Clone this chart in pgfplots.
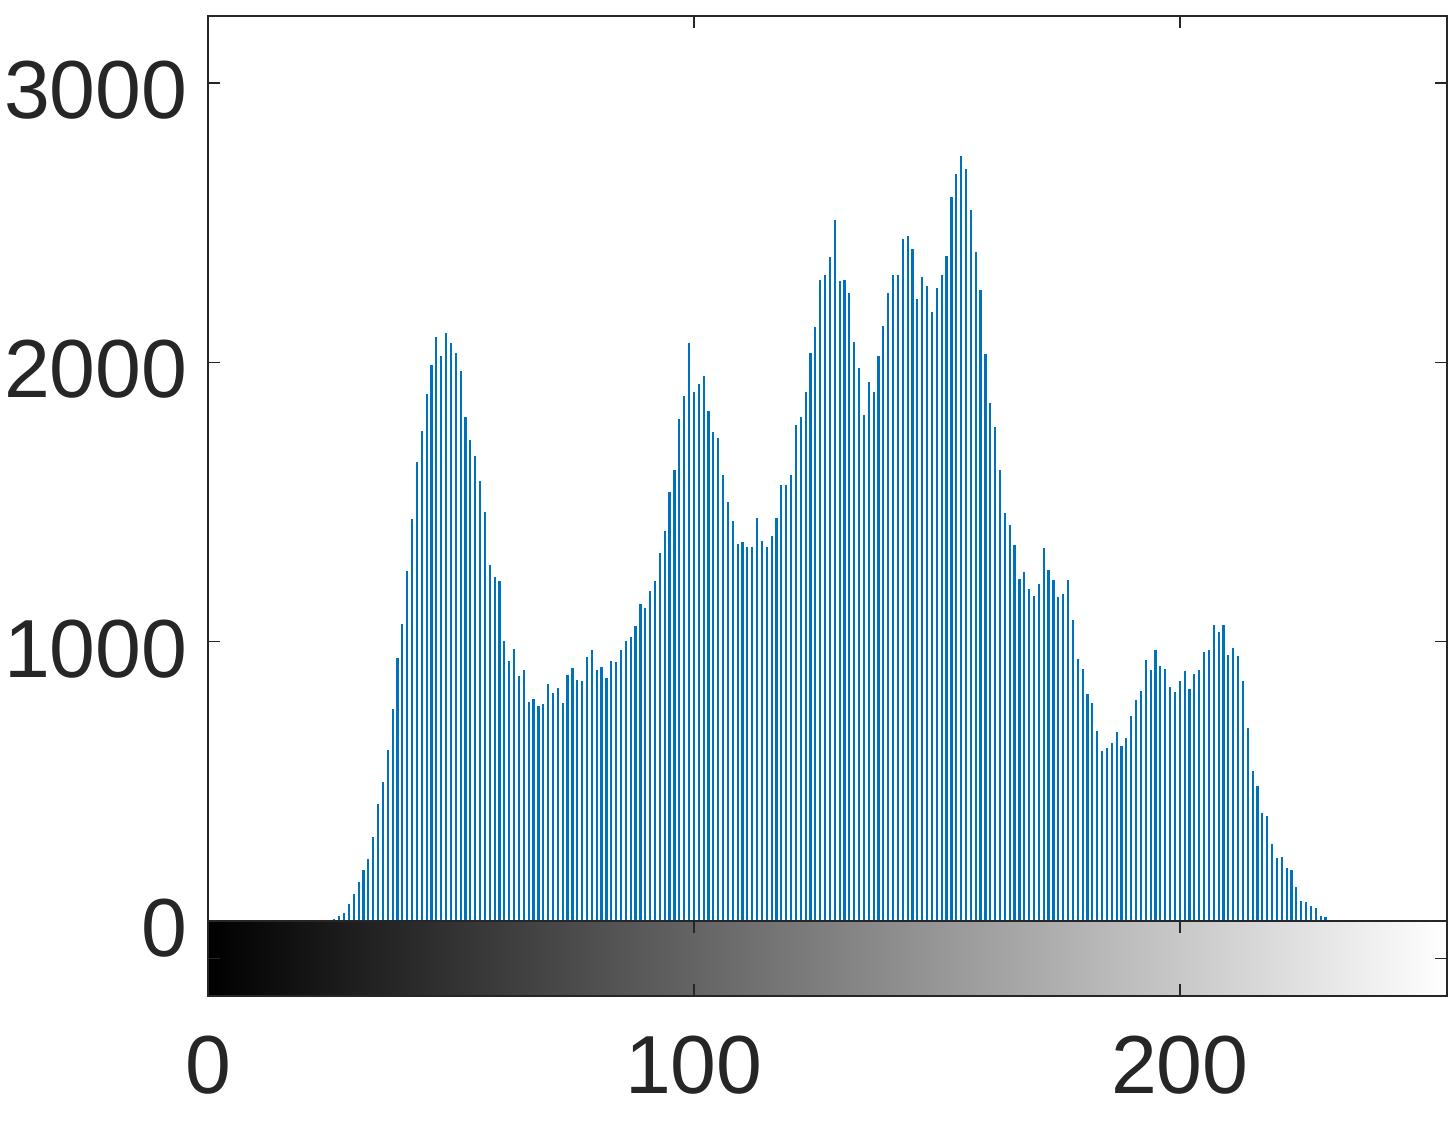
\documentclass[border=0pt]{standalone}
\usepackage{fontspec}
\setmainfont{Liberation Sans}
\usepackage{pgfplots}
\pgfplotsset{compat=1.18}
\usepackage{pgfplotstable}
\definecolor{mblue}{rgb}{0,0.447,0.741}
\definecolor{axgray}{rgb}{0.15,0.15,0.15}

\pgfplotstableread{
x y
26 7
27 18
28 28
29 60
30 97
31 139
32 181
33 222
34 299
35 418
36 498
37 613
38 758
39 940
40 1065
41 1252
42 1440
43 1642
44 1753
45 1885
46 1990
47 2091
48 2024
49 2106
50 2068
51 2034
52 1968
53 1804
54 1722
55 1665
56 1576
57 1464
58 1276
59 1232
60 1218
61 1001
62 930
63 973
64 878
65 897
66 785
67 795
68 770
69 776
70 848
71 816
72 834
73 781
74 881
75 905
76 862
77 859
78 944
79 972
80 899
81 909
82 869
83 931
84 926
85 972
86 1001
87 1016
88 1055
89 1136
90 1122
91 1180
92 1219
93 1319
94 1398
95 1537
96 1614
97 1799
98 1879
99 2069
100 1894
101 1923
102 1951
103 1826
104 1751
105 1731
106 1596
107 1499
108 1433
109 1349
110 1358
111 1339
112 1338
113 1443
114 1361
115 1339
116 1379
117 1444
118 1561
119 1561
120 1596
121 1776
122 1803
123 1893
124 2033
125 2127
126 2296
127 2311
128 2376
129 2509
130 2291
131 2294
132 2250
133 2072
134 1979
135 1811
136 1930
137 1894
138 2024
139 2130
140 2247
141 2312
142 2314
143 2442
144 2451
145 2406
146 2227
147 2307
148 2274
149 2182
150 2265
151 2314
152 2380
153 2591
154 2676
155 2739
156 2692
157 2546
158 2395
159 2258
160 2031
161 1854
162 1770
163 1615
164 1460
165 1416
166 1346
167 1225
168 1249
169 1189
170 1163
171 1206
172 1336
173 1258
174 1221
175 1159
176 1172
177 1221
178 1079
179 939
180 902
181 811
182 779
183 681
184 607
185 619
186 639
187 675
188 627
189 654
190 733
191 791
192 822
193 936
194 898
195 972
196 914
197 903
198 836
199 821
200 861
201 896
202 830
203 885
204 900
205 962
206 970
207 1060
208 1035
209 1061
210 952
211 976
212 948
213 861
214 691
215 538
216 485
217 385
218 376
219 277
220 225
221 228
222 191
223 182
224 120
225 70
226 69
227 55
228 45
229 18
230 13
231 4
232 4
233 2
234 4
}\histdata

\begin{document}
\begin{tikzpicture}
\path[use as bounding box] (0,0) rectangle (364pt,282pt);
\begin{axis}[
  at={(52pt,51.75pt)}, anchor=south west,
  scale only axis, width=309.75pt, height=226.25pt,
  xmin=0, xmax=255, ymin=0, ymax=3240,
  xtick={0,100,200}, xticklabels={},
  ytick={0,1000,2000,3000},
  tick align=inside, tick pos=both,
  major tick length=3pt,
  axis line style={axgray, line width=0.4pt},
  every tick/.style={axgray, line width=0.4pt},
  tick label style={font=\fontsize{20.6}{24}\selectfont, text=axgray},
  /pgf/number format/assume math mode=true,
  /pgf/number format/1000 sep={},
  scaled y ticks=false,
  yticklabel style={yshift=-1.75pt, xshift=-1.6pt},
]
\addplot[ycomb, mblue, line width=0.55pt] table[x=x,y=y]{\histdata};
\end{axis}
\begin{axis}[
  at={(52pt,33pt)}, anchor=south west,
  scale only axis, width=309.75pt, height=18.75pt,
  xmin=0, xmax=255, ymin=0, ymax=1,
  xtick={0,100,200}, ytick={0.5}, yticklabels={},
  tick align=inside, tick pos=both,
  major tick length=3pt,
  axis line style={axgray, line width=0.4pt},
  every tick/.style={axgray, line width=0.4pt},
  tick label style={font=\fontsize{20.6}{24}\selectfont, text=axgray},
  /pgf/number format/assume math mode=true,
  xticklabel style={yshift=-6.5pt},
  axis on top,
]
\fill[left color=black, right color=white] (axis cs:0,0) rectangle (axis cs:255,1);
\end{axis}
\end{tikzpicture}
\end{document}
